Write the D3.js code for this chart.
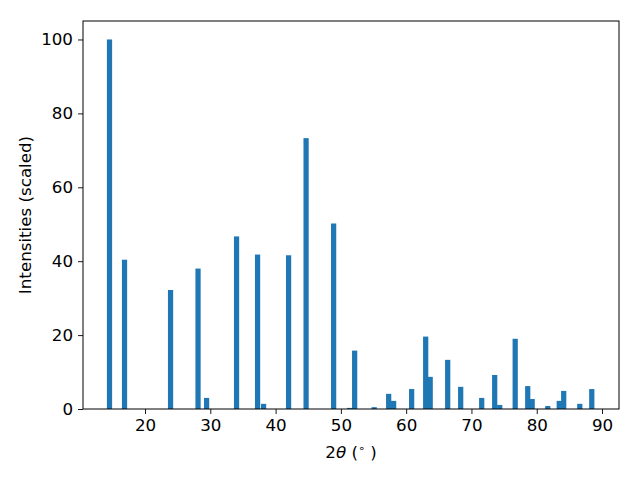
<!DOCTYPE html>
<html><head><meta charset="utf-8">
<script src="https://cdn.jsdelivr.net/npm/d3@7"></script>
<style>body{margin:0;background:#fff}svg{display:block}text{font-family:"DejaVu Sans",sans-serif}</style>
</head><body>
<svg id="c" width="640" height="480"></svg>
<script>
const twoTheta = [14.56,16.86,23.91,28.12,29.43,34.02,37.24,38.16,41.99,44.67,48.89,51.34,52.11,55.1,57.32,58.08,60.84,62.99,63.68,66.36,68.35,71.57,73.56,74.33,76.7,78.62,79.3,81.69,83.45,84.13,86.59,88.43];
const intensity = [100,40.4,32.2,38.0,3.0,46.7,41.8,1.4,41.6,73.3,50.2,0.3,15.8,0.5,4.1,2.2,5.4,19.6,8.7,13.3,6.0,3.0,9.2,1.1,19.0,6.2,2.7,0.8,2.2,4.9,1.4,5.4];
const xTicks = [20,30,40,50,60,70,80,90];
const yTicks = [0,20,40,60,80,100];
const barWidth = 0.8;

const svg = d3.select("#c");
const L=83,R=619,T=21,B=409;
const x = d3.scaleLinear().domain([10.5,92.6]).range([L,R]);
const y = d3.scaleLinear().domain([0,105]).range([B,T]);

svg.append("g").selectAll("rect").data(twoTheta).join("rect")
  .attr("x",(d)=>x(d-barWidth/2))
  .attr("width",(d)=>x(d+barWidth/2)-x(d-barWidth/2))
  .attr("y",(d,i)=>y(intensity[i]))
  .attr("height",(d,i)=>y(0)-y(intensity[i]))
  .attr("fill","#1f77b4");

const xa = svg.append("g").attr("transform",`translate(0,${B})`)
  .call(d3.axisBottom(x).tickValues(xTicks).tickSize(5).tickPadding(5).tickFormat(d3.format("d")));
const ya = svg.append("g").attr("transform",`translate(${L},0)`)
  .call(d3.axisLeft(y).tickValues(yTicks).tickSize(5).tickPadding(5).tickFormat(d3.format("d")));
[xa,ya].forEach(a=>{
  a.select(".domain").remove();
  a.selectAll("line").attr("stroke","#000").attr("stroke-width",0.9);
  a.selectAll("text").attr("font-size",16.7).attr("fill","#000").attr("font-family","DejaVu Sans");
});
svg.append("rect").attr("x",L).attr("y",T).attr("width",R-L).attr("height",B-T)
  .attr("fill","none").attr("stroke","#000").attr("stroke-width",1);

const xl = svg.append("text").attr("x",(L+R)/2).attr("y",458).attr("text-anchor","middle")
  .attr("font-size",16.7).attr("fill","#000");
xl.append("tspan").text("2");
xl.append("tspan").attr("font-style","italic").text("θ");
xl.append("tspan").text(" (");
xl.append("tspan").attr("font-size",11).attr("dy",-6).text("∘");
xl.append("tspan").attr("dy",6).text(" )");

svg.append("text").attr("transform",`translate(31,${(T+B)/2}) rotate(-90)`)
  .attr("text-anchor","middle").attr("font-size",16.7).attr("fill","#000")
  .text("Intensities (scaled)");
</script>
</body></html>
